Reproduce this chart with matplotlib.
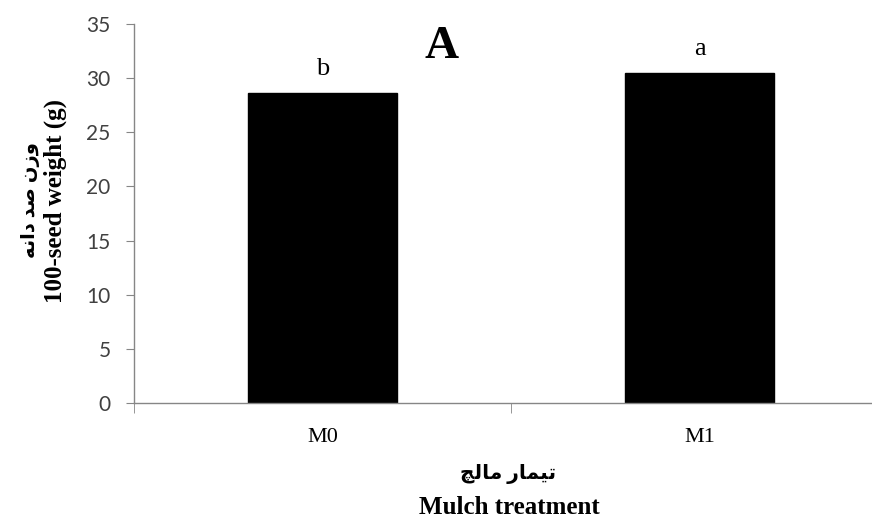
import matplotlib
matplotlib.use("Agg")
import matplotlib.pyplot as plt

# data
treatments = ["M0", "M1"]
seedWeight = [28.65, 30.45]
letters = ["b", "a"]
yTicks = [0, 5, 10, 15, 20, 25, 30, 35]

# Persian labels written in presentation forms, left-to-right visual order
# ("وزن صد دانه" and "تیمار مالچ") since matplotlib does no Arabic shaping
faYLabel = "\uFEEA\uFEE7\uFE8D\uFEA9 \uFEAA\uFEBB \uFEE5\uFEAF\uFEED"
faXLabel = "\uFB7B\uFEDF\uFE8E\uFEE3 \uFEAD\uFE8E\uFEE4\uFEF4\uFE97"
enYLabel = "100-seed weight (g)"
enXLabel = "Mulch treatment"

W, H = 872, 519
serif = ["Liberation Serif", "DejaVu Sans"]
axisGray = "#868686"

fig = plt.figure(figsize=(W / 100, H / 100), dpi=100)
ax = fig.add_axes([134 / W, (H - 403) / H, 754 / W, 379 / H])

x = range(len(treatments))
ax.bar(x, seedWeight, width=0.395, color="black", edgecolor="black")

for i, (v, lab) in enumerate(zip(seedWeight, letters)):
    ax.annotate(lab, (i, v), xytext=(0, 13), textcoords="offset points",
                ha="center", va="baseline", fontsize=19, family=serif)

ax.set_xlim(-0.5, 1.5)
ax.set_ylim(0, 35)
ax.set_yticks(yTicks)
ax.set_yticklabels([str(t) for t in yTicks], family="Lato", fontsize=15, color="#404040")
ax.set_xticks(list(x))
ax.set_xticklabels(treatments, family=serif, fontsize=16)
ax.set_xticks([-0.5, 0.5, 1.5], minor=True)
ax.tick_params(axis="x", which="major", length=0, pad=18)
ax.tick_params(axis="x", which="minor", length=7, color=axisGray, direction="out")
ax.tick_params(axis="y", length=5.8, color=axisGray, direction="out", pad=11)

for side in ["top", "right"]:
    ax.spines[side].set_visible(False)
for side in ["left", "bottom"]:
    ax.spines[side].set_color(axisGray)
    ax.spines[side].set_linewidth(1)

# panel letter
fig.text(442 / W, 1 - 58 / H, "A", ha="center", va="baseline",
         fontsize=34, fontweight="bold", family=serif)

# y label: Persian line outside, English line inside
fig.text(30 / W, 1 - 200 / H, faYLabel, rotation=90, ha="center", va="center",
         fontsize=14, fontweight="bold", family=serif)
fig.text(55 / W, 1 - 201 / H, enYLabel, rotation=90, ha="center", va="center",
         fontsize=18, fontweight="bold", family=serif)

# x label
fig.text(508 / W, 1 - 474 / H, faXLabel, ha="center", va="center",
         fontsize=14.5, fontweight="bold", family=serif)
fig.text(509 / W, 1 - 514 / H, enXLabel, ha="center", va="baseline",
         fontsize=18, fontweight="bold", family=serif)

fig.savefig("out.png", dpi=100)
